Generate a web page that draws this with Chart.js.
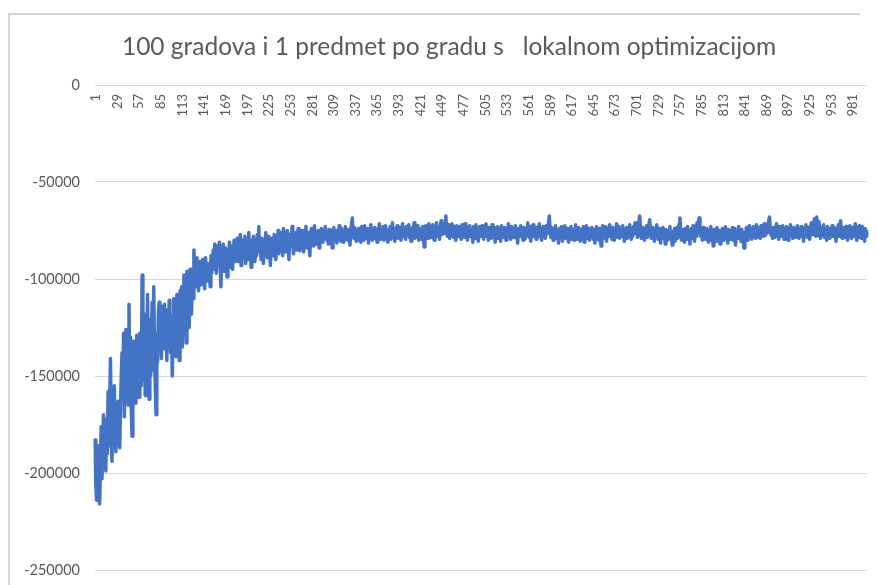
<!DOCTYPE html>
<html>
<head>
<meta charset="utf-8">
<script src="https://cdn.jsdelivr.net/npm/chart.js@4"></script>
<style>
  html, body { margin: 0; padding: 0; background: #ffffff; }
  #wrap { width: 877px; height: 585px; }
</style>
</head>
<body>
<div id="wrap"><canvas id="c" width="877" height="585"></canvas></div>
<script>
const chartTitle = "100 gradova i 1 predmet po gradu s   lokalnom optimizacijom";

const rampValues = [
  -183000,-205000,-214000,-192000,-210000,-186000,-216000,-198000,-176000,-203000,-188000,-170000,-196000,-181000,-199000,
  -172000,-190000,-158000,-186000,-165000,-141000,-178000,-194000,-160000,-183000,-155000,-176000,-189000,
  -170000,-185000,-163000,-179000,-187000,-166000,-150000,
  -138000,-160000,-128000,-171000,-146000,-126000,-158000,-140000,-165000,-113000,-152000,-130000,-168000,-181000,-147000,
  -132000,-158000,-140000,-164000,-129000,-150000,-137000,-161000,-128000,-146000,-155000,
  -98000,-135000,-152000,-118000,-160000,-127000,-145000,-108000,-139000,-162000,-121000,-150000,-133000,-112000,-147000,
  -104000,-136000,-155000,-170000,-128000,-143000,-118000,
  -112000,-130000,-118000,-141000,-114000,-125000,-136000,-113000,-128000,-120000,-142000,-116000,-133000,-111000,-124000,
  -138000,-119000,-150000,-127000,
  -110000,-131000,-117000,-140000,-108000,-124000,-112000,-142000,-106000,-128000,-104000,-135000,-115000,-98000,
  -120000,-102000,-133000,-96000,-112000,-100000,-125000,-95000,-108000,-118000,-97000,-110000,-85000,
  -99000,-92000,-104000,-89000,-97000,-106000,-91000,-100000,-94000,-103000,-90000,-98000,-93000,-105000,-89000,-96000,-101000,-92000,-99000,-94000,-104000,-88000,-97000,-93000,
  -85000,-95000,-82000,-90000,-97000,-83000,-92000,-87000,-81000,-94000,-104000,-86000,-91000,-82000,-96000,-88000,-84000,-93000,-99000,-85000,-90000,-81000,-94000,-87000,-83000,-95000,-86000,-80000,-91000,-84000
];

const approachValues = [
  -86000,-79000,-91000,-83000,-88000,-77000,-93000,-84000,-80000,-89000,
  -85000,-78000,-92000,-87000,-81000,-90000,-76000,-86000,-83000,-94000,
  -80000,-87000,-78000,-85000,-91000,-82000,-88000,-77000,-84000,-73000,
  -86000,-81000,-90000,-79000,-85000,-92000,-80000,-87000,-76000,-83000,
  -89000,-81000,-78000,-86000,-93000,-82000,-79000,-88000,-84000,-77000,
  -85000,-90000,-80000,-83000,-75000,-87000,
  -81000,-76000,-85000,-79000,-88000,-74000,-82000,-78000,-86000,-80000,
  -75000,-84000,-90000,-79000,-77000,-83000,-73000,-81000,-87000,-78000,
  -82000,-76000,-85000,-80000,-74000,-79000,-85500,-78000,-83000,-75000,
  -81000,-86000,-77000,-80000,-73000,-84000,-79000,-76000,-82000,-88000,
  -78000,-74000,-81000,-77000,-83000,-72500,-79000,-82000,-76000,-80000,
  -75000,-84000
];

const plateauValues = [
  -77000,-80500,-74000,-78500,-81000,-75500,-79000,-73000,-77500,-80000,
  -76000,-82000,-74500,-78000,-75000,-79500,-84000,-77000,-73500,-80000,
  -78500,-75000,-81500,-76500,-79000,-72500,-77000,-80500,-74000,-78000,
  -81000,-75500,-77500,-73000,-79500,-76000,-80000,-74500,-78000,-82500,
  -75000,-72000,-68600,-76500,-79000,-73500,-77000,-80500,-75000,-78000,
  -74000,-79500,-76500,-81000,-73000,-77500,-75500,-80000,-72500,-78000,
  -76000,-79000,-74000,-81500,-75500,-77000,-72000,-78500,-80000,-74500,
  -77500,-73500,-79000,-76000,-81000,-74000,-78000,-71500,-76500,-79500,
  -75000,-77500,-73000,-80000,-76000,-72500,-78500,-74500,-81000,-75500,
  -77000,-73000,-79500,-75500,-71000,-78000,-76000,-80500,-74000,-77500,
  -72500,-79000,-75000,-77000,-73500,-80000,-76500,-71500,-78000,-74500,
  -76500,-79500,-73000,-77500,-75000,-72000,-78500,-74000,-80500,-76000,
  -73500,-77000,-71000,-79000,-75500,-78000,-72500,-76500,-80000,-74000,
  -77500,-75000,-79500,-73000,-78000,-83500,-76000,-72500,-77000,-74500,
  -79000,-71500,-76000,-73500,-78500,-75000,-72000,-77500,-80000,-74000,
  -76500,-71000,-78000,-73500,-75500,-79500,-72500,-70000,-74000,-77000,
  -73000,-76500,-71500,-67500,-74500,-78000,-72000,-76000,-79000,-73500,
  -77500,-71500,-75000,-78500,-73000,-76500,-80000,-72500,-77000,-74500,
  -78000,-73000,-75500,-79500,-72000,-76000,-74000,-78500,-71500,-77000,
  -75000,-80000,-73500,-76500,-72500,-78000,-74500,-77500,-81000,-73000,
  -76000,-79000,-72000,-77500,-74500,-80500,-75500,-73000,-78000,-76000,
  -72500,-77000,-79500,-74000,-76500,-71500,-78000,-75000,-80000,-73500,
  -77000,-74500,-79000,-72000,-76500,-78500,-73500,-81000,-75500,-77500,
  -73000,-79000,-76000,-74000,-80500,-72500,-77500,-75000,-78500,-73500,
  -76500,-80000,-74000,-77000,-71500,-78000,-75500,-79500,-73000,-76000,
  -78500,-74500,-77000,-72500,-79000,-75500,-81500,-74000,-76500,-78000,
  -72500,-77500,-75000,-80000,-73500,-76000,-79000,-74000,-77500,-71000,
  -76000,-78500,-73000,-80500,-75500,-77000,-72000,-78000,-74500,-76500,
  -79500,-73500,-77000,-75000,-71500,-78000,-74000,-80000,-76000,-73000,
  -77500,-75000,-79000,-72500,-76500,-74000,-71000,-67500,-75000,-78500,
  -73500,-77000,-80000,-74500,-76500,-72500,-79000,-75500,-77500,-81500,
  -74000,-78000,-76000,-73000,-80500,-75000,-77500,-72500,-79000,-76500,
  -74000,-78500,-81000,-75500,-77000,-73000,-79500,-76000,-74500,-80000,
  -77000,-72000,-78500,-75000,-79500,-73500,-77500,-80500,-74500,-76000,
  -78000,-73000,-81000,-75500,-77500,-72500,-79000,-76000,-74000,-80000,
  -75500,-78000,-73500,-77000,-79500,-74500,-81500,-76500,-73000,-78500,
  -75000,-80000,-74000,-77500,-83000,-76000,-72500,-79000,-75500,-77000,
  -73000,-80500,-76500,-74000,-78000,-72000,-77500,-75000,-79500,-73500,
  -76500,-80000,-74500,-77500,-71500,-78500,-75500,-73000,-79000,-76000,
  -74000,-78000,-72500,-76500,-80500,-75000,-77000,-73500,-79000,-75500,
  -77500,-72000,-76000,-79500,-74000,-78000,-73000,-75500,-71000,-76500,
  -74000,-78500,-72500,-70000,-67500,-75000,-79000,-73500,-77500,-75000,
  -80000,-74000,-77000,-72500,-78500,-75500,-71500,-69500,-76000,-79000,
  -73500,-77500,-75000,-80500,-74500,-78000,-72000,-76500,-79500,-74000,
  -77000,-81500,-75500,-78000,-73500,-79000,-76500,-82000,-74500,-77500,
  -80000,-75000,-78500,-73000,-79500,-76500,-82500,-75500,-78000,-74000,
  -80500,-77000,-73500,-79000,-75500,-71500,-68500,-76000,-80000,-74500,
  -78500,-76000,-81000,-74000,-77500,-79500,-73000,-78000,-75500,-82000,
  -76500,-74000,-79000,-72500,-77000,-80500,-74500,-78000,-71000,-75500,
  -70500,-68500,-74000,-78000,-76000,-80000,-73500,-77500,-75000,-79500,
  -74000,-78500,-76500,-81000,-75000,-77500,-73000,-80000,-76000,-83000,
  -74500,-78000,-76500,-80500,-73500,-77000,-79500,-75000,-82000,-76500,
  -78500,-74000,-80000,-75500,-77500,-73000,-79000,-76000,-81500,-74500,
  -77000,-79500,-75000,-78500,-73500,-80000,-76500,-74000,-82500,-77000,
  -75500,-79000,-73000,-78000,-76000,-80500,-74500,-77500,-81000,-84000,
  -76000,-78500,-73500,-77000,-80000,-75000,-72500,-78000,-74500,-79500,
  -76500,-73000,-77500,-75000,-79000,-72000,-76000,-78500,-73500,-75500,
  -79000,-72500,-76500,-74000,-78000,-71500,-75500,-77500,-73000,-76000,
  -72000,-70000,-68000,-74000,-77500,-75000,-79000,-73500,-76000,-78500,
  -74500,-71500,-77000,-75500,-79500,-73000,-76500,-74000,-78000,-72500,
  -76000,-79500,-74500,-77500,-73000,-75500,-80000,-74000,-76500,-72000,
  -77000,-75000,-79000,-73500,-76000,-78500,-74000,-77500,-72500,-75500,
  -79000,-74500,-76500,-73000,-78000,-75000,-80500,-74000,-77000,-72000,
  -75500,-78500,-73500,-76000,-79500,-74500,-71000,-77000,-75000,-72500,
  -69000,-74000,-78000,-68000,-75500,-77500,-70500,-76000,-79000,-73500,
  -77500,-75000,-72000,-78500,-74500,-76500,-80000,-73000,-77000,-75500,
  -79000,-74000,-76500,-72500,-78000,-75000,-73500,-77500,-80500,-74500,
  -76000,-72000,-78000,-74500,-70000,-76500,-79000,-73500,-77000,-75000,
  -78500,-73000,-76000,-80000,-74000,-77500,-72500,-75500,-79000,-76500,
  -73500,-78000,-75000,-71500,-77000,-80000,-74500,-76000,-72500,-78500,
  -75000,-79000,-73000,-77500,-76000,-80500,-74000,-78000,-75500
];

const seriesValues = rampValues.concat(approachValues, plateauValues);
const categories = seriesValues.map((_, i) => String(i + 1));
const xLabelStep = 28;
const yTicks = [0, -50000, -100000, -150000, -200000, -250000];

const textGray = '#595959';
const frameAndTitle = {
  id: 'frameAndTitle',
  beforeDraw(chart) {
    const ctx = chart.ctx;
    ctx.save();
    ctx.fillStyle = '#ffffff';
    ctx.fillRect(0, 0, chart.width, chart.height);
    ctx.strokeStyle = '#d6d6d6';
    ctx.lineWidth = 2;
    ctx.beginPath();
    ctx.moveTo(9, chart.height);
    ctx.lineTo(9, 14);
    ctx.lineTo(860, 14);
    ctx.stroke();
    ctx.fillStyle = textGray;
    ctx.font = '24.5px Lato';
    ctx.textAlign = 'center';
    ctx.textBaseline = 'middle';
    ctx.fillText(chartTitle, 449, 47);
    ctx.restore();
  }
};

new Chart(document.getElementById('c'), {
  type: 'line',
  data: {
    labels: categories,
    datasets: [{
      data: seriesValues,
      borderColor: '#4472C4',
      borderWidth: 3.5,
      borderJoinStyle: 'round',
      borderCapStyle: 'round',
      pointRadius: 0,
      pointHoverRadius: 0,
      tension: 0,
      fill: false
    }]
  },
  options: {
    responsive: false,
    animation: false,
    devicePixelRatio: 1,
    layout: { padding: { left: 0, right: 10, top: 85, bottom: 15 } },
    plugins: {
      legend: { display: false },
      tooltip: { enabled: false },
      title: { display: false }
    },
    scales: {
      y: {
        min: -250000,
        max: 0,
        afterBuildTicks(scale) { scale.ticks = yTicks.map(v => ({ value: v })); },
        afterFit(scale) {
          scale.width = 95;
          scale.paddingTop = 0;
          scale.paddingBottom = 0;
        },
        ticks: {
          color: textGray,
          font: { family: 'Lato', size: 14.5 },
          padding: 15,
          callback: v => String(v)
        },
        grid: { color: '#d9d9d9', lineWidth: 1, drawTicks: false },
        border: { display: false }
      },
      x: {
        type: 'category',
        position: { y: 0 },
        afterFit(scale) { scale.height = 0; },
        grid: { display: false, drawTicks: false },
        border: { display: false },
        ticks: {
          autoSkip: false,
          minRotation: 90,
          maxRotation: 90,
          labelOffset: 1,
          color: textGray,
          font: { family: 'Lato', size: 13 },
          padding: 9,
          callback(value, index) { return index % xLabelStep === 0 ? categories[index] : null; }
        }
      }
    }
  },
  plugins: [frameAndTitle]
});
</script>
</body>
</html>
